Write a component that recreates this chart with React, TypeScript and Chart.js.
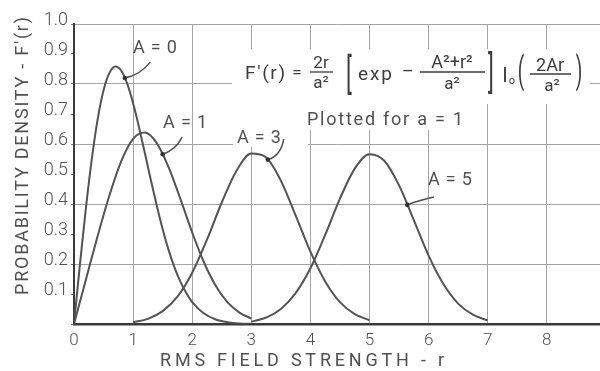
import React, { useEffect, useRef } from 'react';
import { Chart, registerables } from 'chart.js';

Chart.register(...registerables);

// ---- data (a = 1) ----
const rA0 = [0, 0.1, 0.2, 0.3, 0.4, 0.5, 0.6, 0.7, 0.8, 0.9, 1.0, 1.1, 1.2, 1.3, 1.4, 1.5, 1.6, 1.7, 1.8, 1.9, 2.0, 2.2, 2.4, 2.6, 2.8, 3.0];
const fA0 = [0, 0.198, 0.384, 0.548, 0.682, 0.779, 0.837, 0.858, 0.844, 0.801, 0.736, 0.656, 0.569, 0.48, 0.395, 0.316, 0.247, 0.189, 0.141, 0.103, 0.073, 0.035, 0.015, 0.006, 0.002, 0.001];

const rA1 = [0, 0.2, 0.4, 0.6, 0.8, 1.0, 1.2, 1.4, 1.6, 1.8, 2.0, 2.2, 2.4, 2.6, 2.8, 3.0];
const fA1 = [0, 0.147, 0.293, 0.429, 0.543, 0.617, 0.638, 0.603, 0.523, 0.417, 0.305, 0.205, 0.127, 0.072, 0.038, 0.018];

const rA3 = [1.0, 1.25, 1.5, 1.75, 2.0, 2.25, 2.5, 2.75, 3.0, 3.25, 3.5, 3.75, 4.0, 4.25, 4.5, 4.75, 5.0];
const fA3 = [0.006, 0.017, 0.043, 0.091, 0.171, 0.281, 0.405, 0.511, 0.568, 0.555, 0.478, 0.362, 0.241, 0.142, 0.073, 0.033, 0.013];

const rA5 = [3.0, 3.25, 3.5, 3.75, 4.0, 4.25, 4.5, 4.75, 5.0, 5.25, 5.5, 5.75, 6.0, 6.25, 6.5, 6.75, 7.0];
const fA5 = [0.008, 0.021, 0.05, 0.103, 0.186, 0.297, 0.418, 0.518, 0.566, 0.544, 0.462, 0.346, 0.228, 0.133, 0.068, 0.031, 0.012];

const seriesLabels = ['A = 0', 'A = 1', 'A = 3', 'A = 5'];
const xTickLabels = ['0', '1', '2', '3', '4', '5', '6', '7', '8'];
const yTickLabels = ['', '0.1', '0.2', '0.3', '0.4', '0.5', '0.6', '0.7', '0.8', '0.9', '1.0'];

const X_TITLE = 'RMS FIELD STRENGTH - r';
const Y_TITLE = "PROBABILITY DENSITY - F'(r)";
const NOTE = 'Plotted for a = 1';

const INK = '#505050';
const FONT = 'Roboto, "DejaVu Sans", sans-serif';

// label annotations (data coordinates): label centre, leader start, control, dot on curve
const callouts = [
  { text: seriesLabels[0], lx: 1.37, ly: 0.917, sx: 1.29, sy: 0.873, cx: 1.12, cy: 0.83, dx: 0.86, dy: 0.82 },
  { text: seriesLabels[1], lx: 1.88, ly: 0.667, sx: 1.83, sy: 0.623, cx: 1.72, cy: 0.58, dx: 1.5, dy: 0.566 },
  { text: seriesLabels[2], lx: 3.13, ly: 0.617, sx: 3.55, sy: 0.617, cx: 3.5, cy: 0.56, dx: 3.28, dy: 0.548 },
  { text: seriesLabels[3], lx: 6.36, ly: 0.477, sx: 6.09, sy: 0.423, cx: 5.88, cy: 0.415, dx: 5.64, dy: 0.397 },
];

function spaced(ctx: CanvasRenderingContext2D, text: string, x: number, y: number, width: number, font: string, align: 'left' | 'center' = 'center', baseline: CanvasTextBaseline = 'middle') {
  ctx.save();
  ctx.font = font;
  ctx.textAlign = 'left';
  ctx.textBaseline = baseline;
  (ctx as any).letterSpacing = '0px';
  const w = ctx.measureText(text).width;
  const n = Array.from(text).length;
  const ls = n > 1 ? (width - w) / (n - 1) : 0;
  (ctx as any).letterSpacing = ls + 'px';
  const left = align === 'center' ? x - width / 2 : x;
  ctx.fillText(text, left, y);
  ctx.restore();
}

function tall(ctx: CanvasRenderingContext2D, ch: string, x: number, yMid: number, size: number, sy: number) {
  ctx.save();
  ctx.translate(x, yMid);
  ctx.scale(1, sy);
  ctx.font = `400 ${size}px ${FONT}`;
  ctx.textAlign = 'center';
  ctx.textBaseline = 'middle';
  ctx.fillText(ch, 0, 0);
  ctx.restore();
}

function txt(ctx: CanvasRenderingContext2D, s: string, x: number, y: number, size: number, align: CanvasTextAlign = 'center', baseline: CanvasTextBaseline = 'alphabetic') {
  ctx.font = `400 ${size}px ${FONT}`;
  ctx.textAlign = align;
  ctx.textBaseline = baseline;
  ctx.fillText(s, x, y);
}

function bar(ctx: CanvasRenderingContext2D, x0: number, x1: number, y: number) {
  ctx.beginPath();
  ctx.moveTo(x0, y);
  ctx.lineTo(x1, y);
  ctx.stroke();
}

const paperPlugin = {
  id: 'paperText',
  beforeDatasetsDraw(chart: any) {
    const ctx: CanvasRenderingContext2D = chart.ctx;
    ctx.save();
    ctx.fillStyle = '#ffffff';
    ctx.fillRect(232, 49, 358, 55); // formula
    ctx.fillRect(233, 104, 233, 26); // note
    ctx.fillRect(233, 128, 75, 19); // A = 3 label
    ctx.restore();
  },
  afterDatasetsDraw(chart: any) {
    const ctx: CanvasRenderingContext2D = chart.ctx;
    const xs = chart.scales.x;
    const ys = chart.scales.y;
    ctx.save();
    ctx.fillStyle = INK;
    ctx.strokeStyle = INK;
    for (const c of callouts) {
      const px = (v: number) => xs.getPixelForValue(v);
      const py = (v: number) => ys.getPixelForValue(v);
      ctx.lineWidth = 1.5;
      ctx.beginPath();
      ctx.moveTo(px(c.sx), py(c.sy));
      ctx.quadraticCurveTo(px(c.cx), py(c.cy), px(c.dx), py(c.dy));
      ctx.stroke();
      ctx.beginPath();
      ctx.arc(px(c.dx), py(c.dy), 2.3, 0, Math.PI * 2);
      ctx.fillStyle = '#333';
      ctx.fill();
      ctx.fillStyle = INK;
      spaced(ctx, c.text, px(c.lx), py(c.ly), 44, `400 18px ${FONT}`);
    }

    // formula
    ctx.fillStyle = '#3c3c3c';
    ctx.strokeStyle = '#3c3c3c';
    ctx.lineWidth = 1.3;
    const mid = 72;
    spaced(ctx, "F\u2032(r)", 245, mid + 7, 40, `400 19px ${FONT}`, 'left', 'alphabetic');
    txt(ctx, '=', 297, mid + 6, 17);
    txt(ctx, '2r', 321, mid - 4, 17);
    bar(ctx, 310, 333, mid);
    txt(ctx, 'a\u00b2', 321, mid + 16, 17);
    tall(ctx, '[', 349, 78, 22, 1.9);
    spaced(ctx, 'exp', 358, mid + 8, 34, `400 19px ${FONT}`, 'left', 'alphabetic');
    txt(ctx, '\u2013', 408, mid + 5, 18);
    txt(ctx, 'A\u00b2+r\u00b2', 452, mid - 4, 18);
    bar(ctx, 420, 485, mid);
    txt(ctx, 'a\u00b2', 452, mid + 17, 17);
    tall(ctx, ']', 491, 76, 22, 2.0);
    txt(ctx, 'I', 505, mid + 10, 20);
    txt(ctx, 'o', 512, mid + 12, 11);
    tall(ctx, '(', 521, 74, 19, 1.9);
    txt(ctx, '2Ar', 550, mid - 1, 18);
    bar(ctx, 530, 571, mid + 2);
    txt(ctx, 'a\u00b2', 552, mid + 19, 17);
    tall(ctx, ')', 579, 74, 19, 1.9);

    ctx.fillStyle = INK;
    spaced(ctx, NOTE, 307, 120, 156, `400 18px ${FONT}`, 'left');
    ctx.restore();
  },
  afterDraw(chart: any) {
    const ctx: CanvasRenderingContext2D = chart.ctx;
    ctx.save();
    ctx.fillStyle = INK;
    spaced(ctx, X_TITLE, 302, 361, 284, `400 18px ${FONT}`);
    ctx.translate(23, 156);
    ctx.rotate(-Math.PI / 2);
    spaced(ctx, Y_TITLE, 0, 0, 278, `400 18px ${FONT}`);
    ctx.restore();
  },
};

export default function App() {
  const ref = useRef<HTMLCanvasElement | null>(null);
  useEffect(() => {
    document.body.style.margin = '0';
    const canvas = ref.current;
    if (!canvas) return;
    const series = [
      [rA0, fA0],
      [rA1, fA1],
      [rA3, fA3],
      [rA5, fA5],
    ];
    const chart = new Chart(canvas, {
      type: 'line',
      data: {
        datasets: series.map(([r, f], i) => ({
          label: seriesLabels[i],
          data: r.map((x, j) => ({ x, y: f[j] })),
          borderColor: '#535353',
          borderWidth: 2,
          pointRadius: 0,
          fill: false,
          cubicInterpolationMode: 'monotone' as const,
        })),
      },
      options: {
        animation: false,
        responsive: false,
        maintainAspectRatio: false,
        layout: { padding: { top: 24, left: 0, right: 0, bottom: 0 } },
        plugins: { legend: { display: false }, tooltip: { enabled: false } },
        scales: {
          x: {
            type: 'linear',
            min: 0,
            max: 8.9,
            afterFit: (s: any) => { s.height = 47; },
            ticks: {
              stepSize: 1,
              includeBounds: false,
              autoSkip: false,
              maxRotation: 0,
              padding: 7,
              color: INK,
              font: { family: FONT, size: 17, weight: '300' },
              callback: (v: any) => xTickLabels[Math.round(Number(v))] ?? '',
            },
            grid: {
              color: (c: any) => (c.tick && c.tick.value === 0 ? 'rgba(0,0,0,0)' : '#a4a4a4'),
              lineWidth: 1,
              drawTicks: false,
            },
            border: { display: true, color: '#3a3a3a', width: 2.5 },
          },
          y: {
            type: 'linear',
            min: 0,
            max: 1,
            afterFit: (s: any) => { s.width = 74; },
            ticks: {
              stepSize: 0.1,
              padding: 3,
              labelOffset: -4,
              color: INK,
              font: { family: FONT, size: 18, weight: '300' },
              callback: (v: any) => yTickLabels[Math.round(Number(v) * 10)] ?? '',
            },
            grid: {
              color: (c: any) => {
                const k = c.tick ? Math.round(c.tick.value * 10) : 1;
                return k > 0 && k % 2 === 0 ? '#a4a4a4' : 'rgba(0,0,0,0)';
              },
              lineWidth: 1,
              drawTicks: true,
              tickLength: 3,
              tickColor: '#707070',
            },
            border: { display: true, color: '#3a3a3a', width: 2 },
          },
        },
      },
      plugins: [paperPlugin],
    });
    return () => chart.destroy();
  }, []);
  return (
    <div style={{ width: 600, height: 371, background: '#fff' }}>
      <canvas ref={ref} width={600} height={371} style={{ display: 'block' }} />
    </div>
  );
}
